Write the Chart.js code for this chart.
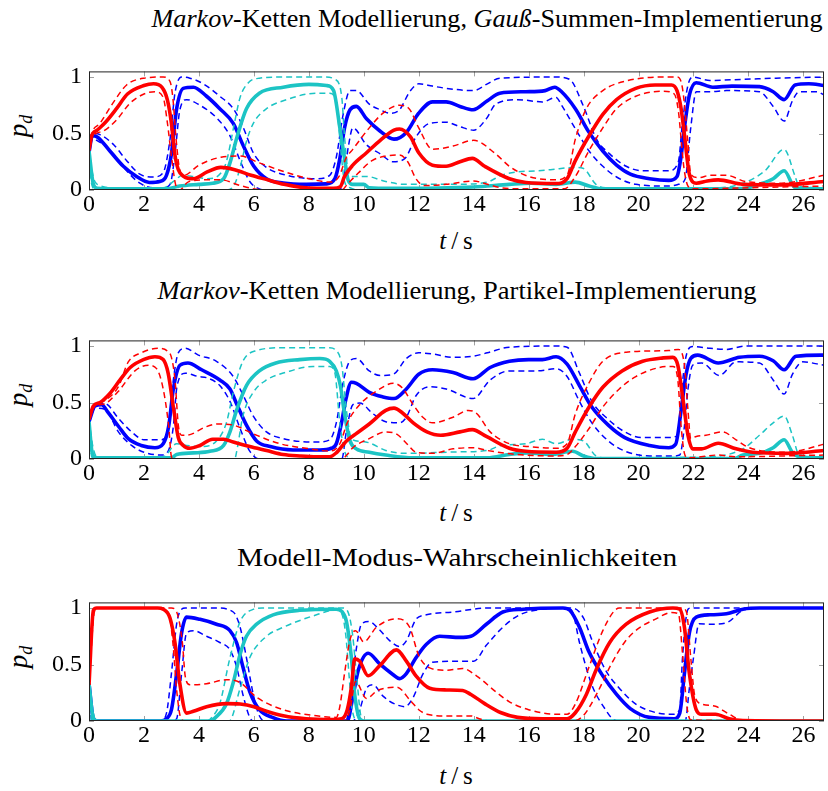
<!DOCTYPE html>
<html>
<head>
<meta charset="utf-8">
<script src="https://cdn.jsdelivr.net/npm/chart.js@4"></script>
<style>
  body { margin: 0; background: #fff; width: 828px; height: 791px; position: relative; overflow: hidden; }
  canvas { position: absolute; left: 0; }
  .txt { position: absolute; font-family: "Liberation Serif", serif; color: #000; white-space: nowrap; line-height: 1; }
  .title { font-size: 25px; width: 800px; text-align: center; transform-origin: 50% 50%; }
  .xlab { font-size: 25px; width: 200px; text-align: center; }
  .ylab { font-size: 27px; width: 60px; text-align: center; transform: rotate(-90deg); }
  .ylab sub { font-size: 18px; vertical-align: -5px; }
</style>
</head>
<body>

<div class="txt title" data-w="671" style="left:87px; top:6px"><span><i>Markov</i>-Ketten Modellierung, <i>Gauß</i>-Summen-Implementierung</span></div>
<div class="txt title" data-w="599" style="left:57px; top:278px"><span><i>Markov</i>-Ketten Modellierung, Partikel-Implementierung</span></div>
<div class="txt title" data-w="440" style="left:57px; top:545px"><span>Modell-Modus-Wahrscheinlichkeiten</span></div>

<div class="txt xlab" style="left:356px; top:228px"><i>t</i>&#8201;/&#8201;s</div>
<div class="txt xlab" style="left:356px; top:500px"><i>t</i>&#8201;/&#8201;s</div>
<div class="txt xlab" style="left:356px; top:763px"><i>t</i>&#8201;/&#8201;s</div>

<div class="txt ylab" style="left:-10px; top:111px"><i>p</i><sub><i>d</i></sub></div>
<div class="txt ylab" style="left:-10px; top:380px"><i>p</i><sub><i>d</i></sub></div>
<div class="txt ylab" style="left:-10px; top:642px"><i>p</i><sub><i>d</i></sub></div>

<canvas id="c1" width="828" height="180"></canvas>
<canvas id="c2" width="828" height="180"></canvas>
<canvas id="c3" width="828" height="180"></canvas>

<script>
// axis ticks
const xTicks = [0, 2, 4, 6, 8, 10, 12, 14, 16, 18, 20, 22, 24, 26];
const yTicks = [0, 0.5, 1];

// panel 1: Gauss-Summen-Implementierung  ([t, p] pairs)
const gaussRed = [[0,0.35],[0.1,0.48],[0.3,0.53],[0.6,0.60],[1.0,0.72],[1.4,0.85],[2.0,0.925],[2.35,0.94],[2.65,0.91],[2.85,0.80],[3.0,0.59],[3.12,0.32],[3.25,0.18],[3.45,0.12],[3.8,0.10],[4.3,0.16],[4.8,0.20],[5.3,0.18],[5.9,0.13],[6.5,0.09],[7.1,0.05],[7.7,0.025],[8.3,0.015],[8.9,0.015],[9.15,0.03],[9.3,0.12],[9.6,0.22],[10.1,0.33],[10.6,0.44],[11.1,0.53],[11.3,0.54],[11.7,0.47],[12.0,0.33],[12.5,0.22],[13.0,0.21],[13.5,0.25],[13.95,0.28],[14.4,0.21],[15.3,0.10],[15.9,0.067],[17.0,0.057],[17.4,0.10],[17.7,0.26],[18.2,0.48],[18.7,0.67],[19.2,0.80],[19.9,0.90],[20.6,0.93],[21.2,0.93],[21.4,0.88],[21.55,0.72],[21.67,0.49],[21.85,0.14],[22.1,0.06],[22.5,0.08],[22.9,0.09],[23.8,0.05],[25.2,0.045],[26.75,0.075]];
const gaussRedHi = [[0,0.37],[0.1,0.5],[0.4,0.59],[0.9,0.78],[1.37,0.93],[2.0,0.99],[2.7,1.0],[2.95,0.96],[3.05,0.82],[3.17,0.45],[3.3,0.18],[3.45,0.13],[4.0,0.22],[4.8,0.29],[5.5,0.30],[6.2,0.24],[7.0,0.17],[8.0,0.10],[8.8,0.07],[9.1,0.12],[9.35,0.28],[9.6,0.36],[10.2,0.55],[10.7,0.68],[11.3,0.75],[11.65,0.72],[12.0,0.55],[12.5,0.36],[13.25,0.39],[14.0,0.44],[14.8,0.32],[15.3,0.21],[16.0,0.12],[17.0,0.09],[17.4,0.13],[17.7,0.45],[18.1,0.72],[18.7,0.88],[19.55,0.965],[20.9,1.0],[21.4,1.0],[21.6,0.9],[21.8,0.41],[21.9,0.14],[22.2,0.11],[22.6,0.13],[23.2,0.13],[23.9,0.075],[25.2,0.06],[26.75,0.13]];
const gaussRedLo = [[0,0.33],[0.1,0.46],[0.5,0.52],[1.0,0.62],[1.5,0.77],[2.0,0.85],[2.4,0.87],[2.7,0.82],[2.85,0.6],[3.0,0.3],[3.15,0.05],[3.3,0.0],[3.6,0.07],[4.2,0.09],[4.8,0.09],[5.5,0.04],[6.0,0.01],[6.5,0.0],[9.2,0.0],[9.4,0.05],[9.8,0.15],[10.3,0.26],[10.8,0.3],[11.3,0.31],[11.6,0.25],[11.9,0.1],[12.2,0.04],[13.0,0.05],[14.0,0.08],[14.5,0.05],[15.0,0.02],[16.0,0.01],[17.3,0.01],[17.7,0.12],[18.2,0.35],[18.7,0.55],[19.2,0.72],[19.9,0.83],[20.9,0.875],[21.3,0.85],[21.45,0.7],[21.55,0.45],[21.65,0.2],[21.8,0.035],[22.0,0.01],[24.0,0.02],[26.75,0.035]];
const gaussBlue = [[0,0.33],[0.12,0.48],[0.3,0.47],[0.76,0.345],[1.25,0.21],[1.73,0.12],[2.2,0.067],[2.58,0.075],[2.82,0.13],[3.0,0.32],[3.19,0.72],[3.43,0.90],[3.8,0.91],[4.28,0.83],[4.76,0.72],[5.25,0.59],[5.6,0.40],[6.0,0.21],[6.46,0.10],[7.07,0.062],[7.9,0.05],[8.64,0.054],[8.95,0.10],[9.13,0.28],[9.3,0.55],[9.5,0.71],[9.73,0.74],[10.1,0.63],[10.6,0.52],[11.1,0.45],[11.55,0.51],[12.0,0.68],[12.5,0.78],[13.0,0.78],[13.5,0.74],[13.98,0.71],[14.5,0.79],[14.95,0.857],[15.9,0.87],[16.6,0.88],[16.95,0.91],[17.2,0.87],[17.7,0.72],[18.2,0.51],[18.7,0.345],[19.2,0.22],[19.7,0.14],[20.4,0.10],[21.1,0.085],[21.4,0.12],[21.55,0.3],[21.67,0.55],[21.85,0.84],[22.1,0.95],[22.7,0.91],[23.4,0.92],[24.4,0.915],[24.9,0.87],[25.3,0.80],[25.7,0.93],[26.2,0.94],[26.75,0.925]];
const gaussBlueHi = [[0,0.35],[0.12,0.5],[0.4,0.49],[0.9,0.4],[1.37,0.26],[1.85,0.14],[2.34,0.115],[2.7,0.155],[2.95,0.45],[3.13,0.86],[3.37,1.0],[3.67,0.99],[4.16,0.94],[4.76,0.83],[5.25,0.72],[5.6,0.56],[6.0,0.32],[6.46,0.2],[7.2,0.13],[8.3,0.10],[8.76,0.13],[9.0,0.29],[9.25,0.67],[9.5,0.88],[9.73,0.88],[10.2,0.76],[10.6,0.71],[10.95,0.68],[11.3,0.71],[11.67,0.87],[12.0,0.94],[12.5,0.92],[13.0,0.90],[14.0,0.88],[14.5,0.94],[14.95,0.99],[17.0,1.0],[17.49,0.98],[17.98,0.75],[18.47,0.45],[18.95,0.32],[19.55,0.21],[20.15,0.17],[21.1,0.17],[21.45,0.25],[21.6,0.6],[21.8,0.93],[21.97,1.0],[22.6,0.97],[23.8,0.98],[25.0,0.99],[26.75,1.0]];
const gaussBlueLo = [[0,0.31],[0.12,0.45],[0.28,0.44],[0.88,0.32],[1.37,0.17],[1.85,0.06],[2.34,0.02],[2.7,0.02],[2.95,0.05],[3.13,0.32],[3.3,0.70],[3.55,0.80],[4.04,0.75],[4.64,0.64],[5.13,0.48],[5.5,0.26],[5.85,0.075],[6.2,0.01],[6.5,0.0],[9.1,0.0],[9.25,0.075],[9.45,0.4],[9.6,0.55],[10.1,0.40],[10.6,0.32],[11.07,0.25],[11.5,0.28],[11.9,0.47],[12.4,0.59],[13.0,0.60],[13.5,0.56],[14.0,0.53],[14.46,0.63],[14.8,0.76],[15.6,0.80],[16.5,0.78],[17.0,0.82],[17.2,0.75],[17.73,0.53],[18.2,0.345],[18.7,0.21],[19.2,0.115],[19.9,0.05],[21.1,0.035],[21.45,0.05],[21.7,0.1],[21.9,0.55],[22.1,0.87],[22.6,0.87],[23.2,0.88],[24.4,0.87],[24.9,0.74],[25.3,0.61],[25.6,0.79],[25.85,0.87],[26.5,0.87],[26.75,0.84]];
const gaussCyan = [[0,0.345],[0.16,0.05],[0.3,0.016],[1.0,0.01],[2.8,0.01],[3.3,0.035],[4.0,0.05],[4.5,0.06],[4.9,0.10],[5.13,0.24],[5.4,0.48],[5.73,0.72],[6.2,0.857],[7.07,0.91],[8.0,0.935],[8.64,0.925],[8.9,0.88],[9.13,0.55],[9.3,0.28],[9.43,0.09],[9.6,0.05],[10.0,0.05],[10.2,0.02],[11.0,0.015],[14.0,0.027],[15.3,0.05],[16.1,0.06],[17.0,0.05],[17.7,0.07],[18.2,0.035],[18.7,0.01],[23.5,0.01],[24.0,0.02],[24.4,0.05],[24.9,0.10],[25.3,0.17],[25.7,0.02],[26.75,0.01]];
const gaussCyanHi = [[0,0.35],[0.15,0.12],[0.3,0.05],[1.0,0.02],[2.7,0.02],[3.1,0.08],[3.4,0.13],[3.8,0.12],[4.3,0.10],[4.8,0.15],[5.0,0.25],[5.3,0.60],[5.5,0.82],[5.8,0.95],[6.2,0.99],[7.0,1.0],[8.6,1.0],[8.95,0.98],[9.2,0.82],[9.3,0.47],[9.43,0.17],[9.6,0.12],[10.1,0.12],[10.8,0.075],[11.5,0.05],[13.3,0.05],[14.5,0.07],[15.0,0.13],[15.6,0.16],[16.3,0.17],[16.8,0.18],[17.7,0.20],[18.0,0.19],[18.45,0.05],[18.8,0.02],[22.8,0.02],[23.8,0.06],[24.6,0.17],[25.3,0.36],[25.7,0.12],[25.85,0.03],[26.75,0.02]];
const gaussCyanLo = [[0,0.33],[0.1,0.05],[0.25,0.0],[5.0,0.0],[5.3,0.05],[5.5,0.2],[5.73,0.43],[5.98,0.59],[6.46,0.72],[7.07,0.79],[8.28,0.857],[8.76,0.857],[9.0,0.78],[9.13,0.45],[9.3,0.075],[9.5,0.02],[9.8,0.0],[26.75,0.0]];

// panel 2: Partikel-Implementierung
const partRed = [[0,0.35],[0.16,0.47],[0.4,0.5],[0.76,0.58],[1.13,0.70],[1.5,0.81],[1.98,0.88],[2.4,0.905],[2.7,0.88],[2.88,0.76],[3.07,0.46],[3.25,0.19],[3.43,0.12],[3.67,0.095],[4.04,0.12],[4.5,0.175],[4.9,0.175],[5.25,0.15],[5.85,0.11],[6.46,0.075],[7.07,0.04],[7.67,0.027],[8.28,0.02],[8.76,0.02],[9.0,0.055],[9.37,0.16],[9.7,0.22],[10.2,0.31],[10.8,0.43],[11.1,0.45],[11.4,0.41],[11.8,0.32],[12.3,0.24],[12.8,0.21],[13.5,0.24],[13.95,0.26],[14.46,0.20],[15.3,0.095],[15.9,0.068],[17.0,0.06],[17.4,0.095],[17.7,0.24],[18.2,0.46],[18.7,0.635],[19.4,0.78],[20.15,0.865],[20.9,0.895],[21.25,0.9],[21.43,0.83],[21.6,0.56],[21.8,0.21],[21.97,0.09],[22.3,0.09],[22.9,0.14],[23.55,0.09],[24.15,0.06],[25.4,0.05],[26.75,0.075]];
const partRedHi = [[0,0.36],[0.1,0.45],[0.58,0.52],[1.07,0.64],[1.43,0.86],[1.9,0.94],[2.52,0.98],[2.88,0.95],[3.0,0.9],[3.13,0.70],[3.25,0.3],[3.37,0.21],[3.73,0.22],[4.2,0.28],[4.7,0.31],[5.25,0.30],[6.0,0.22],[6.95,0.135],[7.9,0.095],[8.76,0.07],[9.13,0.135],[9.4,0.32],[9.85,0.48],[10.46,0.60],[11.07,0.67],[11.4,0.63],[11.8,0.48],[12.15,0.37],[12.5,0.32],[13.25,0.37],[13.8,0.43],[14.1,0.405],[14.6,0.24],[15.3,0.135],[16.0,0.11],[17.0,0.095],[17.4,0.135],[17.7,0.40],[18.2,0.675],[18.7,0.865],[19.55,0.945],[21.1,0.96],[21.45,0.97],[21.67,0.83],[21.8,0.43],[21.9,0.18],[22.1,0.20],[22.45,0.21],[23.06,0.24],[23.55,0.17],[24.03,0.10],[25.4,0.06],[26.75,0.13]];
const partRedLo = [[0,0.34],[0.1,0.44],[0.58,0.49],[1.07,0.60],[1.67,0.78],[2.16,0.83],[2.46,0.80],[2.7,0.62],[2.9,0.29],[3.0,0.02],[3.1,0.0],[9.2,0.0],[9.4,0.04],[9.6,0.10],[10.2,0.18],[10.8,0.24],[11.2,0.22],[11.55,0.14],[11.9,0.06],[12.5,0.05],[13.25,0.09],[14.0,0.10],[14.5,0.075],[15.55,0.04],[17.0,0.027],[17.4,0.04],[17.7,0.11],[18.2,0.27],[18.7,0.46],[19.3,0.62],[19.9,0.73],[20.75,0.81],[21.25,0.82],[21.43,0.70],[21.55,0.29],[21.67,0.05],[21.8,0.01],[22.9,0.035],[23.5,0.02],[26.75,0.035]];
const partBlue = [[0,0.33],[0.22,0.47],[0.46,0.48],[0.7,0.41],[1.07,0.29],[1.43,0.18],[1.9,0.12],[2.4,0.10],[2.7,0.135],[2.9,0.29],[3.07,0.62],[3.31,0.83],[3.6,0.85],[4.1,0.79],[4.76,0.70],[5.13,0.62],[5.37,0.49],[5.73,0.30],[6.1,0.16],[6.6,0.11],[7.43,0.08],[8.4,0.08],[8.82,0.095],[9.0,0.135],[9.19,0.32],[9.35,0.53],[9.55,0.68],[9.73,0.67],[10.2,0.59],[10.7,0.55],[11.1,0.535],[11.55,0.62],[12.0,0.75],[12.5,0.79],[13.25,0.765],[13.98,0.71],[14.6,0.81],[15.3,0.865],[16.0,0.88],[16.5,0.88],[17.0,0.905],[17.4,0.84],[17.85,0.65],[18.3,0.46],[18.9,0.30],[19.5,0.19],[20.4,0.12],[21.1,0.10],[21.35,0.13],[21.55,0.43],[21.73,0.75],[21.9,0.89],[22.15,0.92],[22.9,0.85],[23.67,0.90],[24.4,0.91],[24.9,0.87],[25.3,0.79],[25.73,0.91],[26.75,0.92]];
const partBlueHi = [[0,0.34],[0.22,0.49],[0.58,0.49],[1.07,0.36],[1.55,0.24],[2.0,0.17],[2.64,0.17],[2.9,0.29],[3.07,0.70],[3.25,0.94],[3.5,0.98],[3.98,0.92],[4.64,0.865],[5.25,0.73],[5.6,0.57],[5.98,0.38],[6.46,0.24],[7.07,0.18],[8.28,0.15],[8.76,0.17],[9.0,0.32],[9.25,0.68],[9.5,0.87],[9.73,0.89],[10.2,0.78],[10.6,0.74],[11.07,0.75],[11.55,0.89],[12.0,0.94],[12.5,0.93],[13.25,0.90],[13.98,0.91],[14.5,0.94],[15.3,0.99],[17.0,1.0],[17.4,0.99],[17.85,0.76],[18.3,0.51],[18.9,0.35],[19.5,0.24],[20.1,0.19],[21.1,0.19],[21.43,0.21],[21.55,0.56],[21.73,0.91],[21.97,0.995],[22.6,0.98],[23.2,0.97],[23.9,1.0],[26.75,1.0]];
const partBlueLo = [[0,0.32],[0.22,0.45],[0.58,0.44],[1.07,0.24],[1.55,0.12],[2.0,0.06],[2.64,0.035],[2.9,0.08],[3.07,0.29],[3.2,0.64],[3.5,0.76],[3.98,0.73],[4.28,0.72],[4.76,0.65],[5.13,0.51],[5.5,0.27],[5.85,0.07],[6.2,0.0],[9.2,0.0],[9.37,0.25],[9.6,0.48],[9.85,0.495],[10.34,0.40],[10.8,0.33],[11.3,0.32],[11.55,0.37],[11.9,0.56],[12.4,0.64],[13.0,0.62],[13.98,0.535],[14.6,0.70],[15.3,0.78],[16.3,0.78],[17.0,0.80],[17.4,0.73],[17.85,0.51],[18.3,0.32],[18.9,0.16],[19.5,0.07],[20.4,0.027],[21.25,0.027],[21.5,0.035],[21.67,0.29],[21.8,0.62],[21.97,0.83],[22.3,0.85],[22.94,0.74],[23.55,0.86],[24.4,0.85],[24.9,0.70],[25.3,0.575],[25.6,0.75],[25.97,0.86],[26.75,0.83]];
const partCyan = [[0,0.33],[0.12,0.05],[0.3,0.01],[3.0,0.01],[3.19,0.04],[3.8,0.054],[4.4,0.068],[4.9,0.12],[5.13,0.24],[5.37,0.43],[5.73,0.65],[6.2,0.78],[6.8,0.85],[7.67,0.88],[8.4,0.89],[8.76,0.865],[9.0,0.78],[9.15,0.65],[9.3,0.40],[9.5,0.16],[9.73,0.09],[10.2,0.06],[10.8,0.035],[11.8,0.01],[14.5,0.01],[15.3,0.04],[16.0,0.054],[16.8,0.04],[17.6,0.068],[18.0,0.027],[18.4,0.005],[23.5,0.005],[23.8,0.035],[24.4,0.05],[24.9,0.10],[25.3,0.17],[25.6,0.06],[25.85,0.02],[26.75,0.01]];
const partCyanHi = [[0,0.34],[0.15,0.1],[0.3,0.02],[2.7,0.02],[3.19,0.135],[3.55,0.12],[4.1,0.11],[4.64,0.16],[5.0,0.32],[5.25,0.59],[5.6,0.865],[6.1,0.96],[7.07,0.985],[8.76,0.985],[8.95,0.97],[9.2,0.83],[9.37,0.43],[9.55,0.18],[9.85,0.157],[10.2,0.143],[10.8,0.076],[11.55,0.05],[13.25,0.062],[14.5,0.076],[15.0,0.12],[15.9,0.135],[16.5,0.175],[17.0,0.135],[17.6,0.175],[18.0,0.16],[18.45,0.027],[18.8,0.01],[22.6,0.02],[23.8,0.09],[24.4,0.21],[24.9,0.32],[25.3,0.38],[25.6,0.21],[25.85,0.035],[26.75,0.02]];
const partCyanLo = [[0,0.32],[0.1,0.02],[0.25,0.0],[5.3,0.0],[5.4,0.1],[5.6,0.38],[5.98,0.59],[6.46,0.70],[7.2,0.77],[8.16,0.82],[8.76,0.82],[8.95,0.76],[9.13,0.32],[9.3,0.07],[9.5,0.01],[9.7,0.0],[26.75,0.0]];

// panel 3: Modell-Modus-Wahrscheinlichkeiten
const modeRed = [[0,0.32],[0.16,0.98],[0.28,1.0],[2.5,1.0],[2.7,0.99],[2.95,0.91],[3.13,0.69],[3.3,0.34],[3.55,0.07],[3.8,0.086],[4.28,0.127],[5.0,0.154],[5.5,0.15],[6.0,0.127],[6.46,0.086],[7.07,0.046],[7.9,0.02],[8.88,0.013],[9.2,0.02],[9.4,0.1],[9.55,0.3],[9.67,0.55],[9.85,0.53],[10.16,0.40],[10.58,0.49],[11.19,0.63],[11.55,0.53],[11.9,0.40],[12.4,0.29],[13.0,0.275],[13.6,0.27],[13.9,0.235],[14.4,0.154],[15.0,0.073],[15.6,0.032],[16.5,0.02],[17.4,0.02],[17.7,0.073],[18.1,0.235],[18.45,0.45],[18.95,0.695],[19.55,0.857],[20.4,0.965],[21.25,1.0],[21.5,0.99],[21.67,0.83],[21.85,0.42],[22.1,0.1],[22.3,0.06],[22.8,0.06],[23.3,0.02],[23.8,0.005],[26.75,0.0]];
const modeRedHi = [[0,0.33],[0.16,0.99],[0.28,1.0],[3.0,1.0],[3.19,0.965],[3.4,0.69],[3.5,0.4],[3.67,0.32],[4.28,0.33],[5.0,0.365],[5.5,0.34],[6.1,0.21],[7.07,0.10],[8.28,0.046],[9.0,0.032],[9.13,0.13],[9.3,0.42],[9.5,0.72],[9.7,0.80],[10.0,0.70],[10.46,0.83],[11.19,0.905],[11.67,0.83],[12.0,0.58],[12.4,0.47],[13.0,0.45],[13.6,0.465],[14.1,0.40],[14.8,0.26],[15.3,0.17],[16.0,0.10],[17.0,0.06],[17.4,0.06],[17.7,0.15],[18.2,0.48],[18.7,0.8],[19.1,0.97],[19.3,1.0],[21.6,1.0],[21.75,0.96],[21.9,0.56],[22.05,0.22],[22.3,0.15],[22.8,0.13],[23.3,0.06],[23.8,0.005],[26.75,0.0]];
const modeRedLo = [[0,0.31],[0.2,0.97],[0.35,1.0],[2.6,1.0],[2.9,0.95],[3.05,0.7],[3.2,0.25],[3.35,0.02],[3.5,0.0],[9.3,0.0],[9.5,0.1],[9.7,0.35],[10.1,0.2],[10.5,0.27],[11.2,0.3],[11.7,0.18],[12.0,0.1],[12.3,0.06],[13.0,0.045],[13.9,0.045],[14.2,0.02],[14.6,0.0],[17.6,0.0],[18.0,0.05],[18.5,0.25],[19.0,0.5],[19.5,0.7],[20.0,0.82],[20.6,0.9],[21.2,0.96],[21.45,0.95],[21.6,0.6],[21.75,0.15],[21.9,0.01],[26.75,0.0]];
const modeBlue = [[0,0.33],[0.16,0.02],[0.3,0.0],[2.6,0.0],[2.82,0.02],[3.0,0.1],[3.19,0.42],[3.37,0.78],[3.55,0.92],[4.04,0.90],[4.64,0.857],[5.13,0.80],[5.37,0.695],[5.6,0.48],[5.85,0.26],[6.2,0.10],[6.7,0.03],[7.2,0.0],[9.4,0.0],[9.6,0.21],[9.8,0.45],[10.16,0.60],[10.58,0.505],[11.07,0.41],[11.3,0.375],[11.55,0.42],[11.9,0.56],[12.28,0.68],[12.76,0.75],[13.5,0.74],[13.9,0.75],[14.46,0.857],[15.06,0.965],[15.8,0.99],[17.25,1.0],[17.5,0.98],[17.85,0.83],[18.2,0.61],[18.7,0.40],[19.2,0.235],[19.7,0.11],[20.4,0.032],[21.3,0.02],[21.5,0.07],[21.67,0.42],[21.85,0.78],[22.1,0.92],[22.6,0.94],[23.2,0.95],[23.8,0.99],[24.4,1.0],[26.75,1.0]];
const modeBlueHi = [[0,0.34],[0.16,0.03],[0.3,0.0],[2.6,0.0],[2.82,0.07],[3.0,0.42],[3.19,0.86],[3.37,0.99],[3.5,1.0],[4.64,1.0],[5.25,0.965],[5.5,0.83],[5.73,0.56],[6.0,0.21],[6.2,0.046],[6.4,0.0],[9.35,0.0],[9.55,0.3],[9.73,0.64],[9.92,0.86],[10.2,0.88],[10.58,0.805],[10.95,0.71],[11.3,0.66],[11.55,0.71],[11.9,0.90],[12.28,0.94],[13.25,0.965],[14.5,1.0],[17.6,1.0],[18.0,0.91],[18.3,0.72],[18.8,0.45],[19.3,0.29],[19.9,0.15],[20.65,0.073],[21.25,0.06],[21.5,0.1],[21.6,0.56],[21.8,0.99],[21.9,1.0],[26.75,1.0]];
const modeBlueLo = [[0,0.32],[0.1,0.0],[3.0,0.0],[3.19,0.02],[3.37,0.42],[3.55,0.78],[3.8,0.80],[4.28,0.75],[4.76,0.695],[5.13,0.63],[5.37,0.48],[5.6,0.235],[5.85,0.032],[6.0,0.0],[9.6,0.0],[9.85,0.1],[10.1,0.29],[10.34,0.32],[10.7,0.22],[11.1,0.154],[11.5,0.127],[11.8,0.21],[12.16,0.42],[12.5,0.52],[13.5,0.53],[14.0,0.53],[14.46,0.67],[15.06,0.83],[15.67,0.94],[16.5,0.99],[17.4,1.0],[17.6,0.965],[17.85,0.695],[18.3,0.32],[18.8,0.10],[19.05,0.02],[19.3,0.0],[21.7,0.0],[21.85,0.29],[22.0,0.56],[22.2,0.86],[22.6,0.857],[23.2,0.87],[23.8,0.98],[24.4,1.0],[26.75,1.0]];
const modeCyan = [[0,0.33],[0.16,0.02],[0.3,0.0],[4.4,0.0],[4.6,0.03],[5.0,0.15],[5.25,0.34],[5.5,0.59],[5.73,0.75],[6.1,0.857],[6.7,0.94],[7.67,0.98],[9.0,0.99],[9.2,0.97],[9.37,0.88],[9.55,0.56],[9.67,0.235],[9.85,0.02],[10.0,0.0],[26.75,0.0]];
const modeCyanHi = [[0,0.34],[0.2,0.03],[0.35,0.0],[4.3,0.0],[4.5,0.04],[4.76,0.154],[5.13,0.56],[5.5,0.88],[6.0,0.99],[6.3,1.0],[9.25,1.0],[9.45,0.95],[9.6,0.75],[9.73,0.42],[9.92,0.02],[10.05,0.0],[26.75,0.0]];
const modeCyanLo = [[0,0.32],[0.1,0.0],[5.1,0.0],[5.5,0.29],[5.85,0.56],[6.46,0.75],[7.07,0.83],[8.28,0.94],[9.0,0.985],[9.2,0.95],[9.35,0.75],[9.45,0.45],[9.55,0.154],[9.67,0.02],[9.8,0.0],[26.75,0.0]];

const RED = '#ff0000';
const BLUE = '#0000ff';
const CYAN = '#1cc4c4';
const FONT = "'Liberation Serif', serif";

Chart.defaults.font.family = FONT;
Chart.defaults.font.size = 24;
Chart.defaults.color = '#000';

// stretch each title to the width it has in the reference
document.querySelectorAll('.title').forEach(el => {
  const w = el.firstElementChild.getBoundingClientRect().width;
  el.style.transform = 'scaleX(' + (el.dataset.w / w).toFixed(3) + ')';
});

function xy(arr) {
  return arr.map(p => ({ x: p[0], y: p[1] }));
}

function group(mean, hi, lo, color, order) {
  const dashed = { borderColor: color, borderWidth: 1.5, borderDash: [6, 4], order };
  return [
    { data: xy(mean), borderColor: color, borderWidth: 3.6, order },
    Object.assign({ data: xy(hi) }, dashed),
    Object.assign({ data: xy(lo) }, dashed)
  ];
}

// inner tick marks and the axis box
const frame = {
  id: 'frame',
  beforeDatasetsDraw(chart) {
    const { ctx, chartArea: a, scales } = chart;
    ctx.save();
    ctx.strokeStyle = '#a0a0a0';
    ctx.lineWidth = 1;
    ctx.beginPath();
    xTicks.forEach(v => {
      const px = Math.round(scales.x.getPixelForValue(v)) + 0.5;
      ctx.moveTo(px, a.bottom); ctx.lineTo(px, a.bottom - 5);
      ctx.moveTo(px, a.top); ctx.lineTo(px, a.top + 5);
    });
    yTicks.forEach(v => {
      const py = Math.round(scales.y.getPixelForValue(v)) + 0.5;
      ctx.moveTo(a.left, py); ctx.lineTo(a.left + 5, py);
      ctx.moveTo(a.right, py); ctx.lineTo(a.right - 5, py);
    });
    ctx.stroke();
    ctx.restore();
  },
  afterDatasetsDraw(chart) {
    const { ctx, chartArea: a } = chart;
    ctx.save();
    ctx.strokeStyle = '#222';
    ctx.lineWidth = 1;
    ctx.strokeRect(a.left + 0.5, a.top + 0.5, a.right - a.left - 1, a.bottom - a.top - 1);
    ctx.restore();
  }
};

function makeChart(id, top, sets) {
  const cv = document.getElementById(id);
  cv.style.top = (top - 10) + 'px';
  new Chart(cv, {
    type: 'line',
    data: { datasets: sets },
    options: {
      responsive: false,
      animation: false,
      devicePixelRatio: 1,
      layout: { padding: { top: 10, right: 4, bottom: 0, left: 0 } },
      plugins: { legend: { display: false }, tooltip: { enabled: false } },
      elements: { point: { radius: 0 }, line: { cubicInterpolationMode: 'monotone', fill: false } },
      scales: {
        x: {
          type: 'linear', min: 0, max: 26.75,
          afterFit: s => { s.height = 40; },
          afterBuildTicks: s => { s.ticks = xTicks.map(v => ({ value: v })); },
          grid: { display: false, drawTicks: false, tickLength: 0 }, border: { display: false },
          ticks: { color: '#000', font: { family: FONT, size: 24 }, padding: 0, maxRotation: 0, autoSkip: false, callback: v => String(v) }
        },
        y: {
          min: 0, max: 1.05,
          afterFit: s => { s.width = 89; },
          afterBuildTicks: s => { s.ticks = yTicks.map(v => ({ value: v })); },
          grid: { display: false, drawTicks: false, tickLength: 0 }, border: { display: false },
          ticks: { color: '#000', font: { family: FONT, size: 24 }, padding: 7, callback: v => String(v) }
        }
      }
    },
    plugins: [frame]
  });
}

// red on top, then cyan, then blue
makeChart('c1', 59.5, [
  ...group(gaussRed, gaussRedHi, gaussRedLo, RED, 0),
  ...group(gaussCyan, gaussCyanHi, gaussCyanLo, CYAN, 1),
  ...group(gaussBlue, gaussBlueHi, gaussBlueLo, BLUE, 2)
]);
makeChart('c2', 328.5, [
  ...group(partRed, partRedHi, partRedLo, RED, 0),
  ...group(partCyan, partCyanHi, partCyanLo, CYAN, 1),
  ...group(partBlue, partBlueHi, partBlueLo, BLUE, 2)
]);
makeChart('c3', 590.5, [
  ...group(modeRed, modeRedHi, modeRedLo, RED, 0),
  ...group(modeCyan, modeCyanHi, modeCyanLo, CYAN, 1),
  ...group(modeBlue, modeBlueHi, modeBlueLo, BLUE, 2)
]);
</script>
</body>
</html>
